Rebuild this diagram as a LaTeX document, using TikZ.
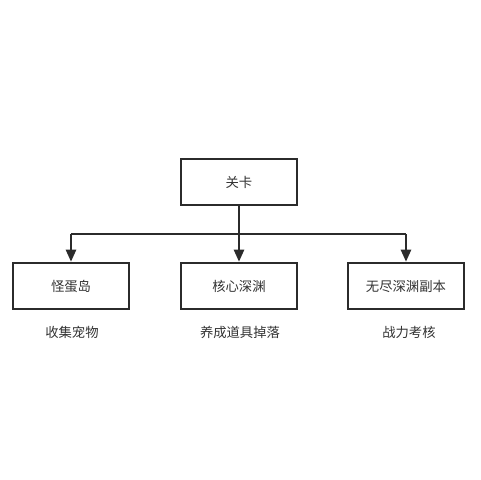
\documentclass[tikz,border=0pt]{standalone}
\usepackage{fontspec}
\setmainfont{Noto Sans CJK SC}
\usetikzlibrary{arrows.meta}
\definecolor{ln}{HTML}{2B2B2B}
\definecolor{tx}{HTML}{333333}
\begin{document}
\begin{tikzpicture}[x=0.75pt,y=-0.75pt,
  box/.style={draw=ln,line width=1.4pt,minimum width=87pt,minimum height=35pt,inner sep=0pt,text=tx,font=\fontsize{10pt}{12pt}\selectfont},
  lbl/.style={text=tx,inner sep=0pt,font=\fontsize{10pt}{12pt}\selectfont},
  conn/.style={draw=ln,line width=1.8pt},
  arr/.style={conn,-{Triangle[length=9pt,width=7.5pt]}}]
\fill[white] (0,0) rectangle (480,480);
\useasboundingbox (0,0) rectangle (480,480);
\node[box] (top) at (239,182) {关卡};
\node[box] (l) at (71,286) {怪蛋岛};
\node[box] (m) at (239,286) {核心深渊};
\node[box] (r) at (406,286) {无尽深渊副本};
\node[lbl] (ll) at (72,332) {收集宠物};
\node[lbl] (ml) at (240,332) {养成道具掉落};
\node[lbl] (rl) at (409,332) {战力考核};
\coordinate (jl) at (71,234);
\coordinate (jr) at (406,234);
\draw[conn] (jl) -- (jr);
\draw[arr] (top.south) -- (m.north);
\draw[arr] (jl) -- (l.north);
\draw[arr] (jr) -- (r.north);
\end{tikzpicture}
\end{document}
